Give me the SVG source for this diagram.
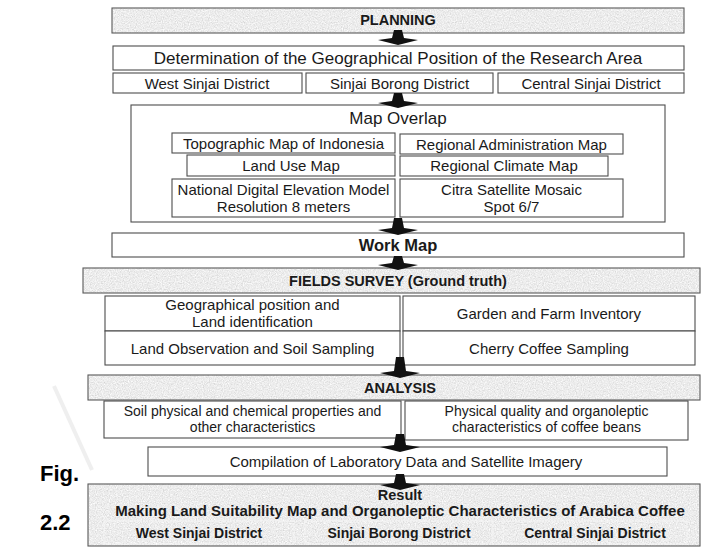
<svg xmlns="http://www.w3.org/2000/svg" xmlns:xlink="http://www.w3.org/1999/xlink" width="703" height="548" viewBox="0 0 703 548">
<style>
  .box{fill:#fff;stroke:#4d4d4d;stroke-width:1.1}
  .band{stroke:#5a5a5a;stroke-width:1.1;fill:none}
  .grain{fill:#d6d6d6;filter:url(#grain)}
  .sub{fill:none;stroke:#f4f4f4;stroke-width:1.3;stroke-dasharray:2 1}
  text{font-family:"Liberation Sans",Arial,Helvetica,sans-serif;fill:#1a1a1a;text-anchor:middle}
  .h17{font-size:17px}
  .t15{font-size:15px}
  .t14{font-size:14px}
  .b{font-weight:bold;font-size:14.5px}
  .fig{font-family:"Liberation Sans Narrow","Liberation Sans",Arial,sans-serif;font-weight:bold;font-size:22px;text-anchor:start;fill:#000}
  .arrow{fill:#111}
</style>
<defs>
  <filter id="grain" x="0" y="0" width="100%" height="100%">
    <feTurbulence type="fractalNoise" baseFrequency="0.85" numOctaves="2" seed="4" result="n"/>
    <feColorMatrix in="n" type="saturate" values="0" result="m"/>
    <feComponentTransfer in="m" result="g">
      <feFuncR type="linear" slope="0.6" intercept="0.54"/>
      <feFuncG type="linear" slope="0.6" intercept="0.54"/>
      <feFuncB type="linear" slope="0.6" intercept="0.54"/>
      <feFuncA type="linear" slope="0" intercept="1"/>
    </feComponentTransfer>
    <feComposite in="g" in2="SourceGraphic" operator="in"/>
  </filter>
</defs>

<rect width="703" height="548" fill="#fff"/>

<!-- faint watermark stroke -->
<line x1="54" y1="386" x2="92" y2="470" stroke="#efefef" stroke-width="4"/>

<g id="planning">
  <rect class="grain" x="112" y="8" width="572" height="25"/>
  <rect class="band" x="112" y="8" width="572" height="25"/>
  <text class="b" x="398" y="25">PLANNING</text>
</g>

<g id="determination">
  <rect class="box" x="113" y="46" width="571" height="24"/>
  <text class="h17" x="398" y="64">Determination of the Geographical Position of the Research Area</text>
</g>

<g id="west-sinjai">
  <rect class="box" x="113" y="73" width="189" height="20"/>
  <text class="t15" x="207" y="88.5">West Sinjai District</text>
</g>
<g id="sinjai-borong">
  <rect class="box" x="306" y="73" width="187" height="20"/>
  <text class="t15" x="399.5" y="88.5">Sinjai Borong District</text>
</g>
<g id="central-sinjai">
  <rect class="box" x="498" y="73" width="186" height="20"/>
  <text class="t15" x="591" y="88.5">Central Sinjai District</text>
</g>

<g id="map-overlap">
  <rect class="box" x="131" y="105" width="534" height="117"/>
  <text class="h17" x="398" y="124">Map Overlap</text>
</g>
<g id="topographic">
  <rect class="box" x="172" y="133" width="223" height="20"/>
  <text class="t15" x="283.5" y="148.5">Topographic Map of Indonesia</text>
</g>
<g id="regional-admin">
  <rect class="box" x="400" y="134" width="223" height="20"/>
  <text class="t15" x="511.5" y="149.5">Regional Administration Map</text>
</g>
<g id="land-use">
  <rect class="box" x="187" y="155" width="208" height="21"/>
  <text class="t15" x="291" y="171">Land Use Map</text>
</g>
<g id="regional-climate">
  <rect class="box" x="400" y="156" width="208" height="20"/>
  <text class="t15" x="504" y="171">Regional Climate Map</text>
</g>
<g id="dem">
  <rect class="box" x="172" y="179" width="223" height="38"/>
  <text class="t15" x="283.5" y="195">National Digital Elevation Model</text>
  <text class="t15" x="283.5" y="212">Resolution 8 meters</text>
</g>
<g id="citra">
  <rect class="box" x="400" y="179" width="223" height="38"/>
  <text class="t15" x="511.5" y="195">Citra Satellite Mosaic</text>
  <text class="t15" x="511.5" y="212">Spot 6/7</text>
</g>

<g id="work-map">
  <rect class="box" x="112" y="233" width="572" height="24"/>
  <text class="b" x="398" y="251" style="font-size:16.5px">Work Map</text>
</g>

<g id="fields-survey">
  <rect class="grain" x="83" y="268" width="617" height="25"/>
  <rect class="band" x="83" y="268" width="617" height="25"/>
  <text class="b" x="398" y="286">FIELDS SURVEY (Ground truth)</text>
</g>
<g id="geo-position">
  <rect class="box" x="105" y="296" width="295" height="35"/>
  <text class="t15" x="252.5" y="310">Geographical position and</text>
  <text class="t15" x="252.5" y="327">Land identification</text>
</g>
<g id="garden-inventory">
  <rect class="box" x="403" y="296" width="292" height="35"/>
  <text class="t15" x="549" y="318.5">Garden and Farm Inventory</text>
</g>
<g id="land-observation">
  <rect class="box" x="105" y="331" width="295" height="34"/>
  <text class="t15" x="252.5" y="354">Land Observation and Soil Sampling</text>
</g>
<g id="cherry-sampling">
  <rect class="box" x="403" y="331" width="292" height="34"/>
  <text class="t15" x="549" y="354">Cherry Coffee Sampling</text>
</g>

<g id="analysis">
  <rect class="grain" x="88" y="375" width="612" height="25"/>
  <rect class="band" x="88" y="375" width="612" height="25"/>
  <text class="b" x="400" y="393">ANALYSIS</text>
</g>
<g id="soil-properties">
  <rect class="box" x="104" y="401" width="297" height="37"/>
  <text class="t14" x="252.5" y="415.5">Soil physical and chemical properties and</text>
  <text class="t14" x="252.5" y="431.5">other characteristics</text>
</g>
<g id="coffee-quality">
  <rect class="box" x="405" y="401" width="283" height="39"/>
  <text class="t14" x="546.5" y="415.5">Physical quality and organoleptic</text>
  <text class="t14" x="546.5" y="431.5">characteristics of coffee beans</text>
</g>

<g id="compilation">
  <rect class="box" x="148" y="447" width="519" height="29"/>
  <text class="t15" x="406" y="467">Compilation of Laboratory Data and Satellite Imagery</text>
</g>

<g id="result">
  <rect class="grain" x="88" y="484" width="612" height="62"/>
  <rect class="band" x="88" y="484" width="612" height="62"/>
  <text class="b" x="400" y="499.5">Result</text>
  <text class="b" x="400" y="515.5" style="font-size:15px">Making Land Suitability Map and Organoleptic Characteristics of Arabica Coffee</text>
</g>
<g id="result-west">
  <rect class="sub" x="104" y="521" width="190" height="23"/>
  <text class="b" x="199" y="538" style="font-size:14px">West Sinjai District</text>
</g>
<g id="result-borong">
  <rect class="sub" x="305" y="521" width="188" height="23"/>
  <text class="b" x="399" y="538" style="font-size:14px">Sinjai Borong District</text>
</g>
<g id="result-central">
  <rect class="sub" x="503" y="521" width="184" height="23"/>
  <text class="b" x="595" y="538" style="font-size:14px">Central Sinjai District</text>
</g>

<g id="connectors" class="arrow">
  <path d="M394,30 L402,30 L404,38 L418,40 L398,45 L378,40 L392,38 Z"/>
  <path d="M394,93 L402,93 L404,101 L418,103 L398,108 L378,103 L392,101 Z"/>
  <path d="M394,218 L402,218 L404,228 L418,230 L398,235 L378,230 L392,228 Z"/>
  <path d="M394,256 L402,256 L404,263 L418,265 L398,270 L378,265 L392,263 Z"/>
  <path d="M396,357 L404,357 L406,371 L420,373 L400,378 L380,373 L394,371 Z"/>
  <path d="M396,434 L404,434 L406,445 L420,447 L400,452 L380,447 L394,445 Z"/>
  <path d="M396,474 L404,474 L406,483 L420,485 L400,490 L380,485 L394,483 Z"/>
</g>

<g id="caption">
  <text class="fig" x="40" y="481">Fig.</text>
  <text class="fig" x="40" y="530">2.2</text>
</g>
</svg>
